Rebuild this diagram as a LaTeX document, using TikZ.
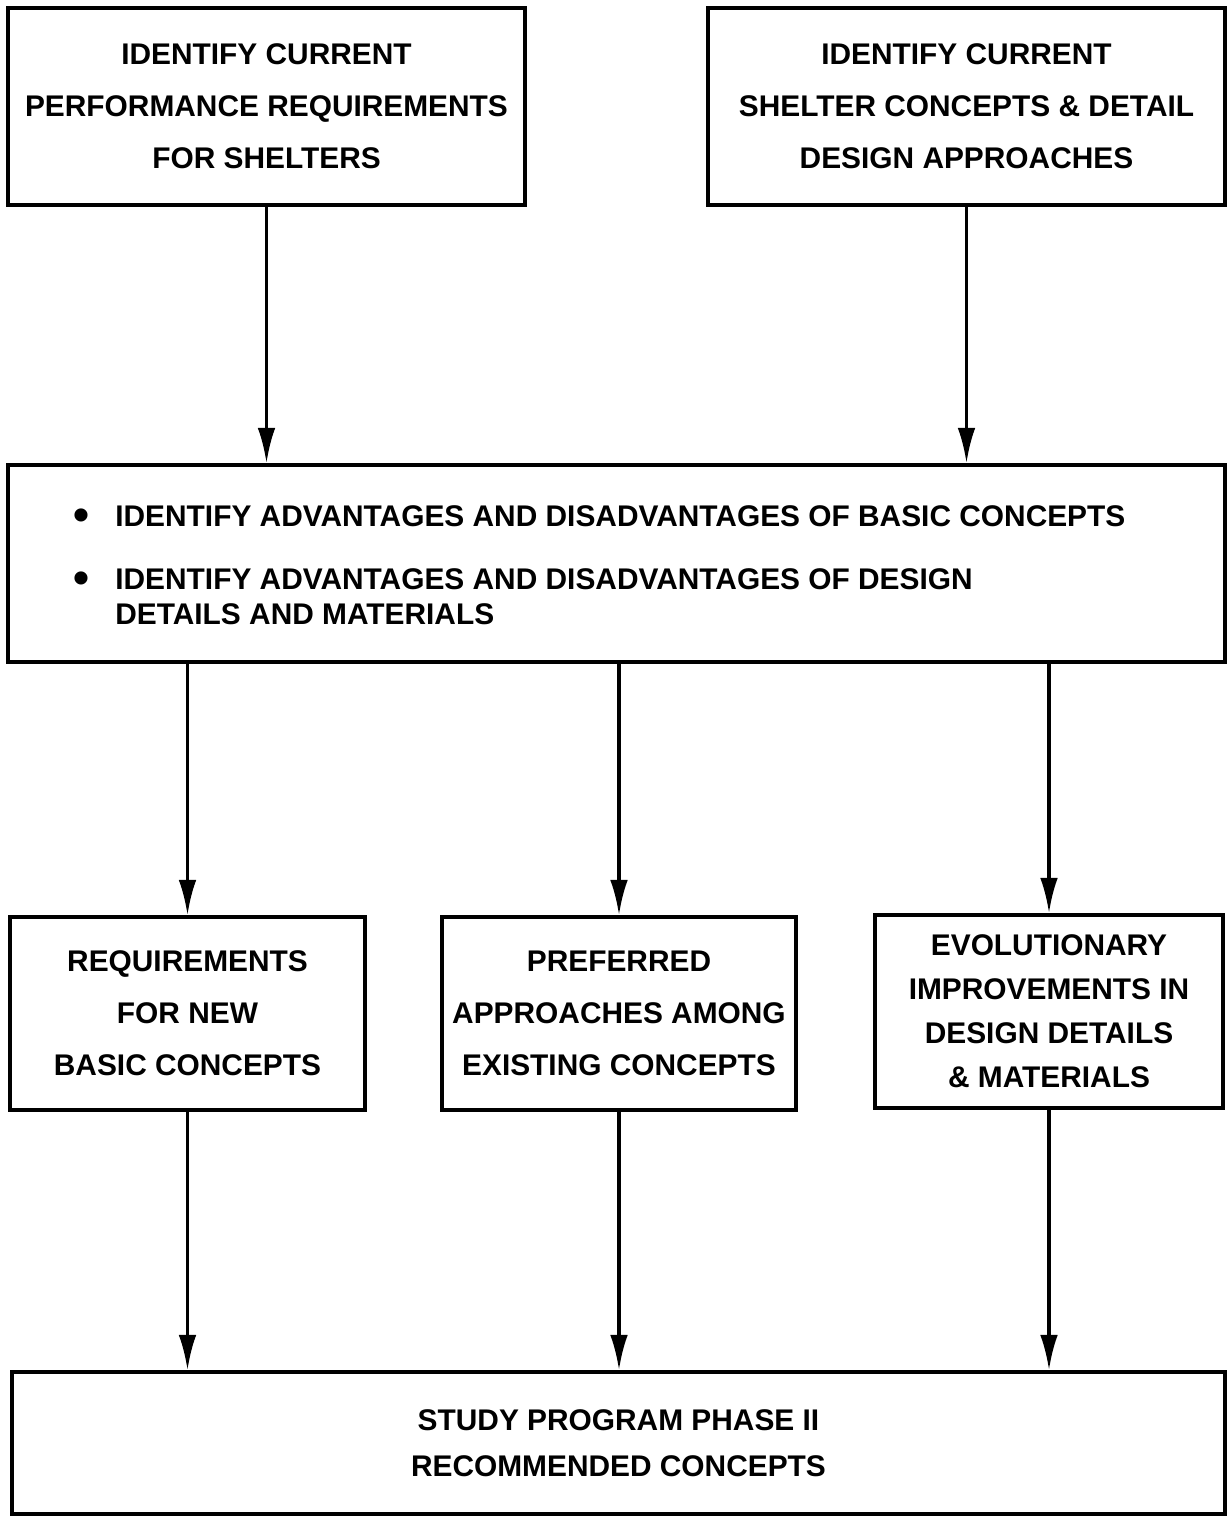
\documentclass[tikz,border=0pt]{standalone}
\usepackage{fontspec}
\setmainfont{Liberation Sans}
\usetikzlibrary{arrows.meta}

\tikzset{
  box/.style={draw, line width=2.2pt, align=center, inner sep=0pt,
    font=\fontsize{17}{29.5}\selectfont\bfseries},
  flow/.style={line width=1.9pt, -{Latex[length=20pt,width=10pt]}}
}
\newcommand{\bigdot}{\llap{\raisebox{-2.5pt}{\fontsize{26}{26}\selectfont\textbullet}\hspace{15pt}}}

\begin{document}
\begin{tikzpicture}[x=0.02cm, y=-0.02cm]
    \useasboundingbox[fill=white] (0,0) rectangle (1228,1516);
    % top row
    \node[box, minimum width=10.34cm, minimum height=3.94cm] (perf) at (266.5,106.5)
        {IDENTIFY CURRENT\\PERFORMANCE REQUIREMENTS\\FOR SHELTERS};
    \node[box, minimum width=10.34cm, minimum height=3.94cm] (design) at (966.5,106.5)
        {IDENTIFY CURRENT\\SHELTER CONCEPTS \& DETAIL\\DESIGN APPROACHES};
    % middle box
    \node[box, minimum width=24.34cm, minimum height=3.94cm] (adv) at (616.5,563.5) {};
    \node[font=\fontsize{17}{20}\selectfont\bfseries, align=left, inner sep=0pt, anchor=west] (advtext) at (115,565)
        {\bigdot IDENTIFY ADVANTAGES AND DISADVANTAGES OF BASIC CONCEPTS\\[16pt]
         \bigdot IDENTIFY ADVANTAGES AND DISADVANTAGES OF DESIGN\\
         DETAILS AND MATERIALS};
    % third row
    \node[box, minimum width=7.1cm, minimum height=3.86cm] (req) at (187.5,1013.5)
        {REQUIREMENTS\\FOR NEW\\BASIC CONCEPTS};
    \node[box, minimum width=7.08cm, minimum height=3.86cm] (pref) at (619,1013.5)
        {PREFERRED\\APPROACHES AMONG\\EXISTING CONCEPTS};
    \node[box, minimum width=6.96cm, minimum height=3.86cm, font=\fontsize{17}{25}\selectfont\bfseries] (evol) at (1049,1011.5)
        {EVOLUTIONARY\\IMPROVEMENTS IN\\DESIGN DETAILS\\\& MATERIALS};
    % bottom
    \node[box, minimum width=24.26cm, minimum height=2.84cm, font=\fontsize{17}{26.5}\selectfont\bfseries] (phase) at (618.5,1443)
        {STUDY PROGRAM PHASE II\\RECOMMENDED CONCEPTS};

    \draw[flow] (perf.south) -- (perf.south |- adv.north);
    \draw[flow] (design.south) -- (design.south |- adv.north);
    \draw[flow] (req.north |- adv.south) -- (req.north);
    \draw[flow] (pref.north |- adv.south) -- (pref.north);
    \draw[flow] (evol.north |- adv.south) -- (evol.north);
    \draw[flow] (req.south) -- (req.south |- phase.north);
    \draw[flow] (pref.south) -- (pref.south |- phase.north);
    \draw[flow] (evol.south) -- (evol.south |- phase.north);
\end{tikzpicture}
\end{document}
